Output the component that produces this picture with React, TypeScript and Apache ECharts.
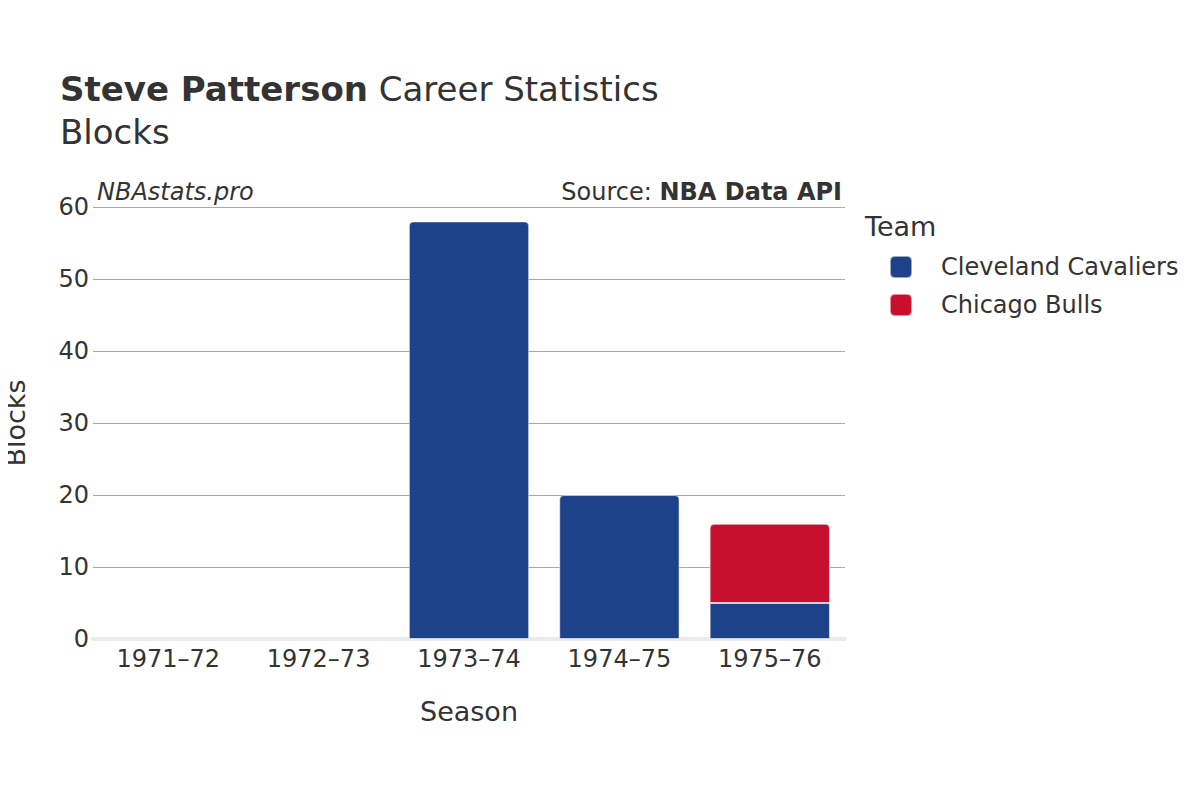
import React, { useEffect, useRef } from "react";
import * as echarts from "echarts";

const seasons = ["1971–72", "1972–73", "1973–74", "1974–75", "1975–76"];
const cleveland = [0, 0, 58, 20, 5];
const chicago = [0, 0, 0, 0, 11];
const teams = ["Cleveland Cavaliers", "Chicago Bulls"];
const colors = ["#1d428a", "#c8102e"];
const yTicks = { min: 0, max: 60, interval: 10 };

const FONT = "DejaVu Sans";

export default function App() {
  const ref = useRef<HTMLDivElement>(null);
  useEffect(() => {
    if (!ref.current) return;
    const chart = echarts.init(ref.current, null, { renderer: "svg" });
    const topIdx = seasons.map((_, i) => (chicago[i] > 0 ? 1 : 0));
    const cleData = cleveland.map((v, i) =>
      v === 0
        ? null
        : { value: v, itemStyle: { borderRadius: topIdx[i] === 0 ? [4, 4, 0, 0] : 0 } }
    );
    const chiData = chicago.map((v, i) =>
      v === 0
        ? null
        : { value: v, itemStyle: { borderRadius: topIdx[i] === 1 ? [4, 4, 0, 0] : 0 } }
    );
    chart.setOption({
      animation: false,
      textStyle: { fontFamily: FONT },
      title: [
        {
          text: "{b|Steve Patterson}{r| Career Statistics}",
          left: 60,
          top: 72,
          padding: 0,
          textStyle: {
            fontWeight: "normal",
            rich: {
              b: { fontFamily: FONT, fontSize: 34, fontWeight: "bold", color: "#333" },
              r: { fontFamily: FONT, fontSize: 34, fontWeight: "normal", color: "#333" },
            },
          },
        },
        {
          text: "Blocks",
          left: 60,
          top: 115,
          padding: 0,
          textStyle: { fontFamily: FONT, fontSize: 34, fontWeight: "normal", color: "#333" },
        },
        {
          text: "NBAstats.pro",
          left: 97,
          top: 180,
          padding: 0,
          textStyle: { fontFamily: FONT, fontSize: 24, fontStyle: "italic", fontWeight: "normal", color: "#333" },
        },
        {
          text: "{r|Source: }{b|NBA Data API}",
          right: 358,
          top: 180,
          padding: 0,
          textStyle: {
            fontWeight: "normal",
            rich: {
              r: { fontFamily: FONT, fontSize: 24, fontWeight: "normal", color: "#333" },
              b: { fontFamily: FONT, fontSize: 24, fontWeight: "bold", color: "#333" },
            },
          },
        },
        {
          text: "Team",
          left: 865,
          top: 213,
          padding: 0,
          textStyle: { fontFamily: FONT, fontSize: 27, fontWeight: "normal", color: "#333" },
        },
      ],
      legend: {
        orient: "vertical",
        left: 889,
        top: 255,
        padding: 0,
        itemWidth: 22,
        itemHeight: 22,
        itemGap: 14,
        icon: "path://M5,0 L17,0 Q22,0 22,5 L22,17 Q22,22 17,22 L5,22 Q0,22 0,17 L0,5 Q0,0 5,0 Z",
        data: teams,
        textStyle: { fontFamily: FONT, fontSize: 24, color: "#333", padding: [0, 0, 0, 24] },
      },
      grid: {
        left: 93,
        right: 355,
        top: 207,
        bottom: 161,
        containLabel: false,
        outerBoundsMode: "none",
      },
      xAxis: {
        type: "category",
        data: seasons,
        name: "Season",
        nameLocation: "middle",
        nameGap: 59,
        nameTextStyle: { fontFamily: FONT, fontSize: 27, color: "#333" },
        axisLine: { show: true, lineStyle: { color: "#ebebeb", width: 4 } },
        axisTick: { show: false },
        axisLabel: { fontFamily: FONT, fontSize: 24, color: "#333", margin: 8 },
      },
      yAxis: {
        type: "value",
        min: yTicks.min,
        max: yTicks.max,
        interval: yTicks.interval,
        name: "Blocks",
        nameLocation: "middle",
        nameGap: 64,
        nameTextStyle: { fontFamily: FONT, fontSize: 27, color: "#333" },
        axisLine: { show: false },
        axisTick: { show: false },
        axisLabel: { fontFamily: FONT, fontSize: 24, color: "#333", margin: 4 },
        splitLine: { lineStyle: { color: "#a8a8a8", width: 1 } },
      },
      series: [
        {
          name: teams[0],
          type: "bar",
          stack: "total",
          data: cleData,
          barCategoryGap: "20%",
          itemStyle: { color: colors[0], borderColor: "rgba(255,255,255,0.55)", borderWidth: 1 },
        },
        {
          name: teams[1],
          type: "bar",
          stack: "total",
          data: chiData,
          barCategoryGap: "20%",
          itemStyle: { color: colors[1], borderColor: "rgba(255,255,255,0.55)", borderWidth: 1 },
        },
      ],
    });
    return () => chart.dispose();
  }, []);
  return <div ref={ref} style={{ width: 1200, height: 800, margin: -8 }} />;
}
